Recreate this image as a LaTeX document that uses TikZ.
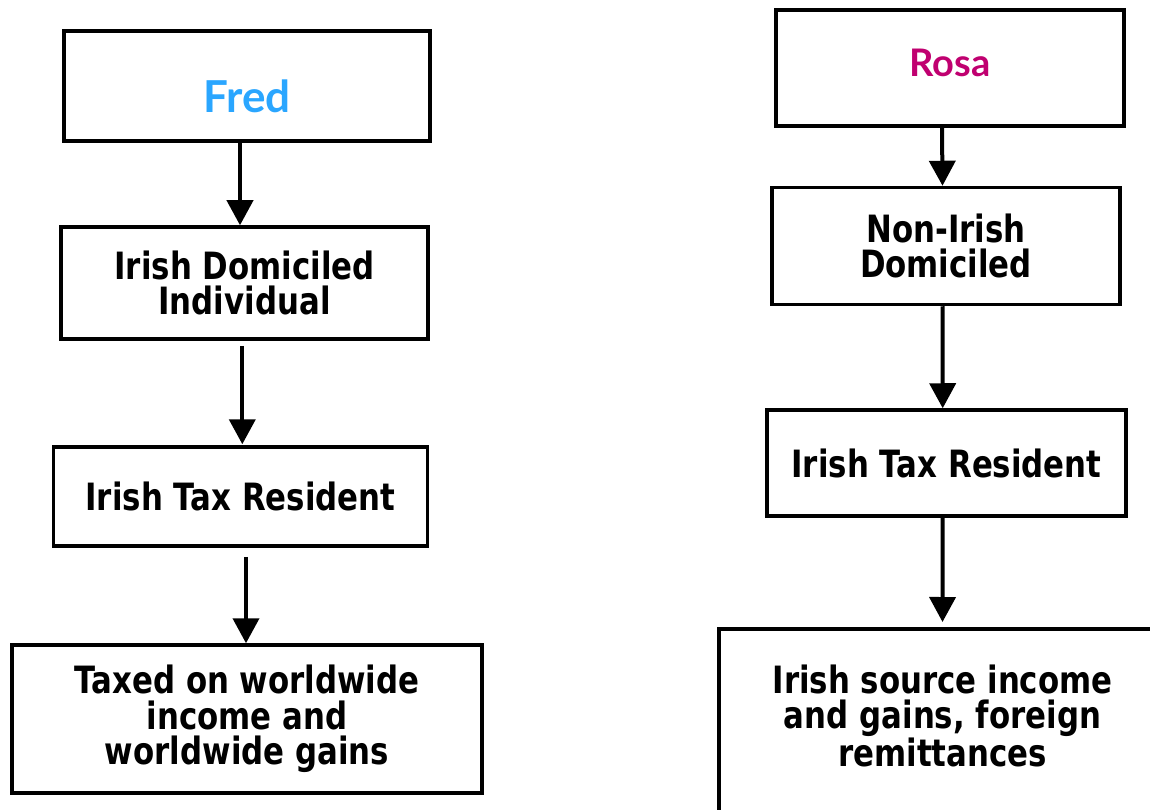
\documentclass[tikz,border=0pt]{standalone}
\usepackage{fontspec}
\setmainfont{DejaVu Sans}[FakeStretch=0.82]
\newfontfamily\namefont{Lato}
\usetikzlibrary{arrows.meta}
\definecolor{fredblue}{RGB}{42,166,255}
\definecolor{rosapink}{RGB}{192,0,112}
\tikzset{
  box/.style={draw=black, line width=3.5pt, rectangle, fill=white, align=center,
    font=\fontsize{37.6}{35.5}\selectfont\bfseries, inner sep=0pt},
  arr/.style={line width=4pt, -{Triangle[width=26pt,length=25pt]}},
}
\begin{document}
\begin{tikzpicture}[x=1pt,y=-1pt]
\useasboundingbox (0,0) rectangle (1150,810);
\clip (0,0) rectangle (1150,810);
% left column
\node[box, minimum width=366pt, minimum height=110pt, text height=54pt, text depth=0pt,
  font=\namefont\fontsize{44}{44}\selectfont\bfseries, text=fredblue] (A1) at (247,86) {Fred};
\node[box, minimum width=367pt, minimum height=112pt] (A2) at (244.5,283) {Irish Domiciled\\Individual};
\node[box, minimum width=374pt, minimum height=99pt] (A3) at (240.5,496.5) {Irish Tax Resident};
\node[box, minimum width=470pt, minimum height=148pt] (A4) at (247,719) {Taxed on worldwide\\income and\\worldwide gains};
% right column
\node[box, minimum width=348pt, minimum height=116pt, text height=18pt, text depth=0pt,
  font=\namefont\fontsize{38}{38}\selectfont\bfseries, text=rosapink] (B1) at (950,68) {Rosa};
\node[box, minimum width=348pt, minimum height=117pt] (B2) at (946,246) {Non-Irish\\Domiciled};
\node[box, minimum width=359pt, minimum height=106pt] (B3) at (946.5,463) {Irish Tax Resident};
\node[box, minimum width=447pt, minimum height=240pt, anchor=north] (B4) at (942.5,627) {};
\node[font=\fontsize{37.6}{35.5}\selectfont\bfseries, align=center, inner sep=0pt] (T4) at (942.5,716) {Irish source income\\and gains, foreign\\remittances};
% arrows
\draw[arr] ([xshift=-7pt]A1.south) -- ([xshift=-4.5pt]A2.north);
\draw[arr] ([xshift=-2.2pt,yshift=-5pt]A2.south) -- ([xshift=1.8pt,yshift=1pt]A3.north);
\draw[arr] ([xshift=5.5pt,yshift=-9pt]A3.south) -- ([xshift=-1pt]A4.north);
\draw[arr] ([xshift=-8pt]B1.south) -- ([xshift=-3.5pt]B2.north);
\draw[arr] ([xshift=-3.5pt]B2.south) -- ([xshift=-3.8pt]B3.north);
\draw[arr] ([xshift=-3.8pt]B3.south) -- ([yshift=5pt]B4.north);
\end{tikzpicture}
\end{document}
